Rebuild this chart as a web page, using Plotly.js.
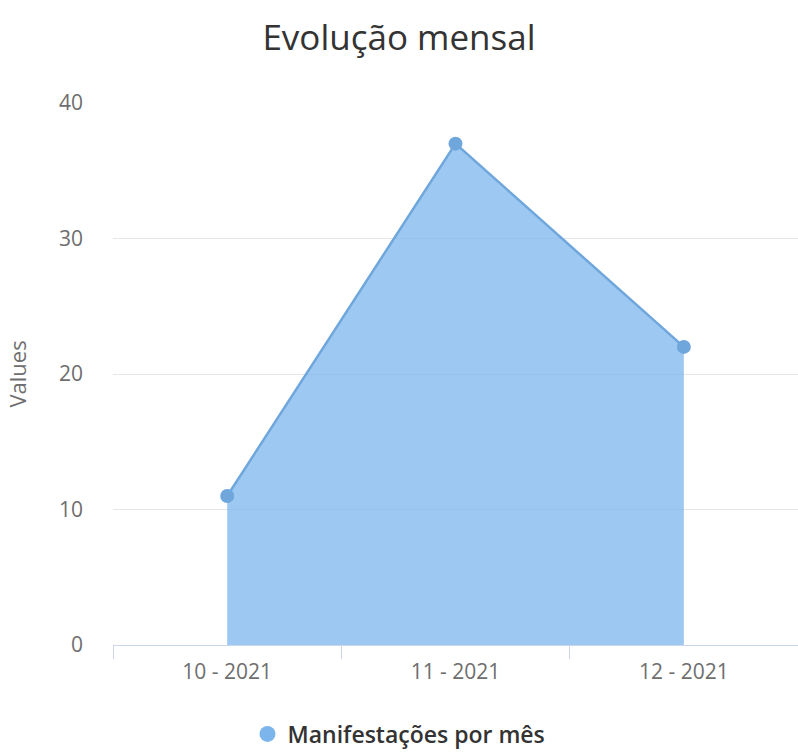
<!DOCTYPE html>
<html>
<head>
<meta charset="utf-8">
<script src="https://cdn.plot.ly/plotly-3.0.1.min.js"></script>
<style>html,body{margin:0;padding:0;background:#fff;}#chart{width:798px;height:752px;}</style>
</head>
<body>
<div id="chart"></div>
<script>
const categories = ["10 - 2021", "11 - 2021", "12 - 2021"];
const values = [11, 37, 22];
const seriesName = "Manifestações por mês";
const yTicks = [0, 10, 20, 30, 40];

const lineColor = "#6fa6dc";
const legendColor = "#7cb5ec";
const fillColor = "rgba(124,181,236,0.75)";

const traces = [
  {
    x: categories,
    y: values,
    type: "scatter",
    mode: "lines+markers",
    fill: "tozeroy",
    fillcolor: fillColor,
    line: {color: lineColor, width: 2.5},
    marker: {color: lineColor, size: 14},
    showlegend: false,
    hoverinfo: "x+y"
  },
  {
    x: [null],
    y: [null],
    type: "scatter",
    mode: "markers",
    name: seriesName,
    marker: {color: legendColor, size: 20},
    showlegend: true
  }
];

const layout = {
  width: 798,
  height: 752,
  margin: {l: 113, r: 0, t: 103, b: 107},
  paper_bgcolor: "#fff",
  plot_bgcolor: "#fff",
  font: {family: "Open Sans, sans-serif", color: "#6e6e6e"},
  title: {
    text: "Evolução mensal",
    font: {size: 35, color: "#333", family: "Open Sans, sans-serif"},
    x: 0.5, xref: "container", xanchor: "center",
    y: 0.95, yref: "container", yanchor: "middle"
  },
  xaxis: {
    type: "category",
    range: [-0.5, 2.5],
    tickson: "boundaries",
    ticks: "outside",
    ticklen: 13,
    tickcolor: "#ccd6eb",
    showline: true,
    linecolor: "#ccd6eb",
    linewidth: 1,
    showgrid: false,
    zeroline: false,
    ticklabelstandoff: 8,
    tickfont: {size: 21, color: "#6e6e6e"},
    fixedrange: true
  },
  yaxis: {
    range: [0, 40],
    tickvals: yTicks,
    showgrid: true,
    gridcolor: "#e6e6e6",
    gridwidth: 1,
    zeroline: false,
    showline: false,
    ticks: "",
    ticklabelstandoff: 29,
    tickfont: {size: 21, color: "#6e6e6e"},
    title: {text: "Values", font: {size: 22, color: "#6e6e6e"}, standoff: 26},
    fixedrange: true
  },
  showlegend: true,
  legend: {
    orientation: "h",
    xref: "container", yref: "container",
    x: 0.5, xanchor: "center",
    y: 0.024, yanchor: "middle",
    font: {size: 23, color: "#333", weight: 600},
    itemsizing: "trace"
  }
};

Plotly.newPlot("chart", traces, layout, {displayModeBar: false});
</script>
</body>
</html>
